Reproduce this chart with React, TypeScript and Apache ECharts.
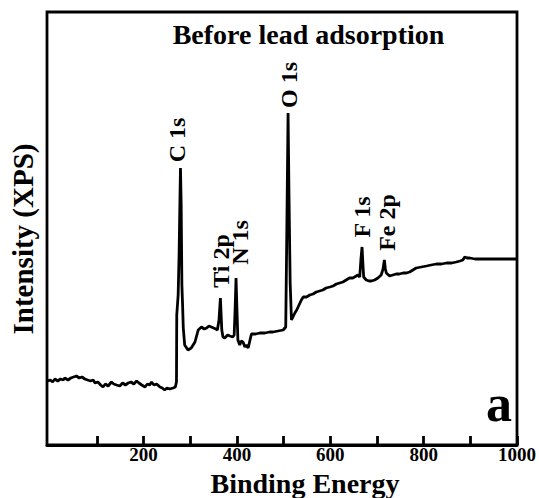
import React, { useEffect, useRef } from "react";
import * as echarts from "echarts";

// Binding energy (eV) and intensity (arbitrary units)
const energy = [
  -6, 0, 5, 10, 16, 22, 28, 31, 38, 44, 50, 56, 62, 68, 74, 80, 86, 92, 96, 102,
  108, 113, 118, 124, 131, 136, 142, 149, 155, 161, 167, 173, 179, 185, 190, 196,
  203, 208, 213, 217, 222, 228, 235, 240, 245, 250, 256, 263, 268, 270.4,
  271, 274, 276, 278, 279, 280.5, 282, 283.5, 285, 288, 295, 302, 310, 317, 324,
  330, 335, 340, 345, 350, 355, 358, 361.5, 364.5, 367.5, 370, 374, 380, 385,
  391, 394, 396, 398, 400, 402, 406, 409, 413, 417, 420, 424, 427, 431, 440,
  449, 460, 470, 477, 488, 499, 504.5, 506.5, 509.5, 511.5, 514, 516.8, 520,
  524, 528, 531, 535, 538, 542, 549, 556, 563, 570, 577, 584, 591, 599, 606,
  613, 620, 627, 634, 641, 648, 652, 659, 663, 665.5, 668, 670, 671.5, 677,
  683, 688, 695, 702, 709, 713, 715.8, 718, 720, 727, 734, 741, 748, 756, 763,
  770, 777, 784, 795, 806, 816, 827, 838, 849, 860, 870, 878, 884, 888, 893,
  899, 910, 920, 935, 950, 965, 980, 1000,
];
const intensity = [
  64, 65, 63, 66, 64, 66, 65, 67, 65, 67, 68, 69, 67, 68, 66, 65, 64, 65, 62, 63,
  60, 58, 61, 59, 63, 61, 60, 59, 62, 60, 62, 63, 61, 64, 62, 60,
  58, 61, 60, 63, 60, 61, 58, 57, 55, 57, 56, 57, 58, 63,
  130, 150, 190, 250, 277, 240, 160, 140, 117, 100, 95, 97, 103, 115, 118,
  116, 117, 119, 118, 117, 116, 115, 125, 147, 115, 108, 107, 110, 109,
  108, 110, 135, 167, 135, 105, 100, 104, 103, 98, 100, 97, 103, 111, 111,
  112, 112, 113, 113, 114, 115, 118, 200, 332, 250, 162, 125, 128,
  132, 135, 138, 142, 145, 148, 148, 150, 151, 153, 154, 155, 157, 158, 159,
  161, 162, 163, 165, 167, 167, 168, 170, 168, 185, 198, 180, 168, 165,
  164, 164, 165, 167, 170, 176, 185, 176, 172, 169, 170, 171, 171, 172, 172,
  173, 175, 177, 178, 179, 180, 181, 181, 182, 182, 183, 184, 185, 188, 187,
  187, 186, 186, 186, 186, 186, 186, 186,
];

const tickValues = [100, 200, 300, 400, 500, 600, 700, 800, 900, 1000];
const tickLabels = [200, 400, 600, 800, 1000];
const peakNames = ["C 1s", "Ti 2p", "N 1s", "O 1s", "F 1s", "Fe 2p"];
const titleText = "Before lead adsorption";
const xName = "Binding Energy";
const yName = "Intensity (XPS)";
const panelTag = "a";

export default function App() {
  const ref = useRef<HTMLDivElement>(null);

  useEffect(() => {
    if (!ref.current) return;
    const chart = echarts.init(ref.current, null, { renderer: "svg" });
    const fam = "'Liberation Serif', 'Times New Roman', serif";
    const peakPos = [
      [177, 140],
      [220.5, 261],
      [240, 242.5],
      [289, 85],
      [362, 217],
      [387, 222.5],
    ];
    const txt = (
      text: string,
      x: number,
      y: number,
      size: number,
      rot = 0
    ) => ({
      type: "text",
      x,
      y,
      rotation: rot,
      silent: true,
      style: {
        text,
        fill: "#000",
        font: `bold ${size}px ${fam}`,
        align: "center",
        verticalAlign: "middle",
        textAlign: "center",
        textVerticalAlign: "middle",
      },
    });

    const data = energy.map((e, i) => [e, intensity[i]]);

    chart.setOption({
      animation: false,
      backgroundColor: "#fff",
      grid: {
        left: 47,
        top: 12,
        width: 470,
        height: 433,
        show: true,
        borderColor: "#000",
        borderWidth: 2.8,
        backgroundColor: "transparent",
      },
      xAxis: {
        type: "value",
        min: -7,
        max: 1000,
        axisLine: { show: true, lineStyle: { color: "#000", width: 2.8 } },
        axisTick: {
          show: true,
          inside: true,
          length: 9,
          customValues: tickValues,
          lineStyle: { color: "#000", width: 2.8 },
        },
        axisLabel: {
          customValues: tickLabels,
          formatter: (v: number) => String(v),
          color: "#000",
          fontFamily: fam,
          fontWeight: "bold",
          fontSize: 19,
          margin: 0,
        },
        splitLine: { show: false },
      },
      yAxis: {
        type: "value",
        min: 0,
        max: 433,
        axisLine: { show: false },
        axisTick: { show: false },
        axisLabel: { show: false },
        splitLine: { show: false },
      },
      series: [
        {
          type: "line",
          data,
          showSymbol: false,
          symbol: "none",
          lineStyle: { color: "#000", width: 2.8 },
          z: 3,
        },
      ],
      graphic: [
        txt(titleText, 308.5, 34.5, 28),
        ...peakNames.map((n, i) => txt(n, peakPos[i][0], peakPos[i][1], 24, Math.PI / 2)),
        txt(panelTag, 499, 403, 52),
        txt(xName, 305, 483, 28),
        txt(yName, 23, 239, 29, Math.PI / 2),
      ],
    });

    return () => chart.dispose();
  }, []);

  return (
    <div
      ref={ref}
      style={{
        position: "fixed",
        left: 0,
        top: 0,
        width: 539,
        height: 498,
        background: "#fff",
      }}
    />
  );
}
